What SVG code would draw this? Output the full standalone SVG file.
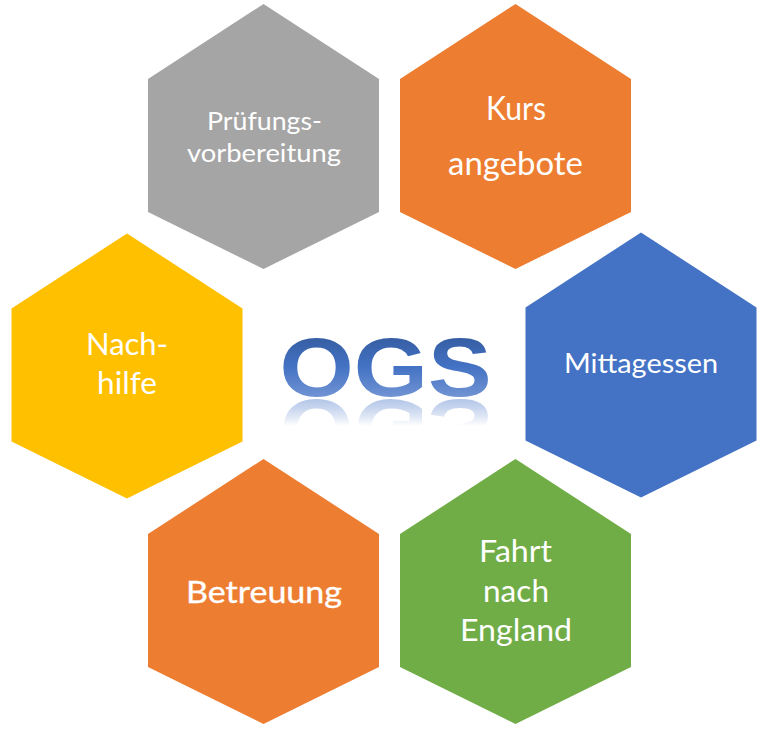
<svg xmlns="http://www.w3.org/2000/svg" width="779" height="733" viewBox="0 0 779 733">
<style>
.lbl{font-family:Lato,"Open Sans","Liberation Sans",sans-serif;fill:#ffffff;text-anchor:middle;}
.ogs{font-family:"Liberation Sans",Arial,sans-serif;font-weight:bold;font-size:84px;text-anchor:middle;}
</style>
<defs>
<polygon id="hex" points="0,-132.5 115.5,-57.5 115.5,75.5 0,132.5 -115.5,75.5 -115.5,-57.5"/>
<linearGradient id="ogsGrad" x1="0" y1="0" x2="0" y2="1">
<stop offset="0" stop-color="#2D528F"/>
<stop offset="0.5" stop-color="#4472C4"/>
<stop offset="1" stop-color="#8AA7DC"/>
</linearGradient>
<linearGradient id="fadeGrad" gradientUnits="userSpaceOnUse" x1="0" y1="398" x2="0" y2="426">
<stop offset="0" stop-color="#ffffff" stop-opacity="0.55"/>
<stop offset="1" stop-color="#ffffff" stop-opacity="0"/>
</linearGradient>
<mask id="fade" maskUnits="userSpaceOnUse" x="0" y="0" width="779" height="733">
<rect x="0" y="398" width="779" height="40" fill="url(#fadeGrad)"/>
</mask>
</defs>
<rect width="779" height="733" fill="#ffffff"/>
<g id="connectors"/>
<g id="pruefung">
<use href="#hex" transform="translate(263.5,136.5)" fill="#A5A5A5"/>
<text class="lbl" x="264.5" y="130" font-size="25" textLength="115" lengthAdjust="spacingAndGlyphs">Prüfungs-</text>
<text class="lbl" x="264" y="162" font-size="25" textLength="154" lengthAdjust="spacingAndGlyphs">vorbereitung</text>
</g>
<g id="kurs">
<use href="#hex" transform="translate(515.5,136.5)" fill="#ED7D31"/>
<text class="lbl" x="516" y="120" font-size="32" textLength="60" lengthAdjust="spacingAndGlyphs">Kurs</text>
<text class="lbl" x="515.5" y="175" font-size="32" textLength="135" lengthAdjust="spacingAndGlyphs">angebote</text>
</g>
<g id="nachhilfe">
<use href="#hex" transform="translate(127,366)" fill="#FFC000"/>
<text class="lbl" x="127" y="355" font-size="30.5" textLength="82" lengthAdjust="spacingAndGlyphs">Nach-</text>
<text class="lbl" x="127" y="394" font-size="30.5" textLength="60" lengthAdjust="spacingAndGlyphs">hilfe</text>
</g>
<g id="mittagessen">
<use href="#hex" transform="translate(641,365)" fill="#4472C4"/>
<text class="lbl" x="641" y="373" font-size="27" textLength="154" lengthAdjust="spacingAndGlyphs">Mittagessen</text>
</g>
<g id="betreuung">
<use href="#hex" transform="translate(263.5,591.5)" fill="#ED7D31"/>
<text class="lbl" x="264" y="603" font-size="30.5" stroke="#ffffff" stroke-width="0.35" textLength="156" lengthAdjust="spacingAndGlyphs">Betreuung</text>
</g>
<g id="fahrt">
<use href="#hex" transform="translate(515.5,591.5)" fill="#70AD47"/>
<text class="lbl" x="515.5" y="562" font-size="30" textLength="73" lengthAdjust="spacingAndGlyphs">Fahrt</text>
<text class="lbl" x="516" y="602" font-size="30" textLength="66" lengthAdjust="spacingAndGlyphs">nach</text>
<text class="lbl" x="516" y="641" font-size="30" textLength="112" lengthAdjust="spacingAndGlyphs">England</text>
</g>
<g id="ogs">
<text id="ogsText" class="ogs" x="385.5" y="396" fill="url(#ogsGrad)" textLength="212" lengthAdjust="spacingAndGlyphs">OGS</text>
<g mask="url(#fade)">
<use href="#ogsText" transform="translate(0,796) scale(1,-1)"/>
</g>
</g>
</svg>
